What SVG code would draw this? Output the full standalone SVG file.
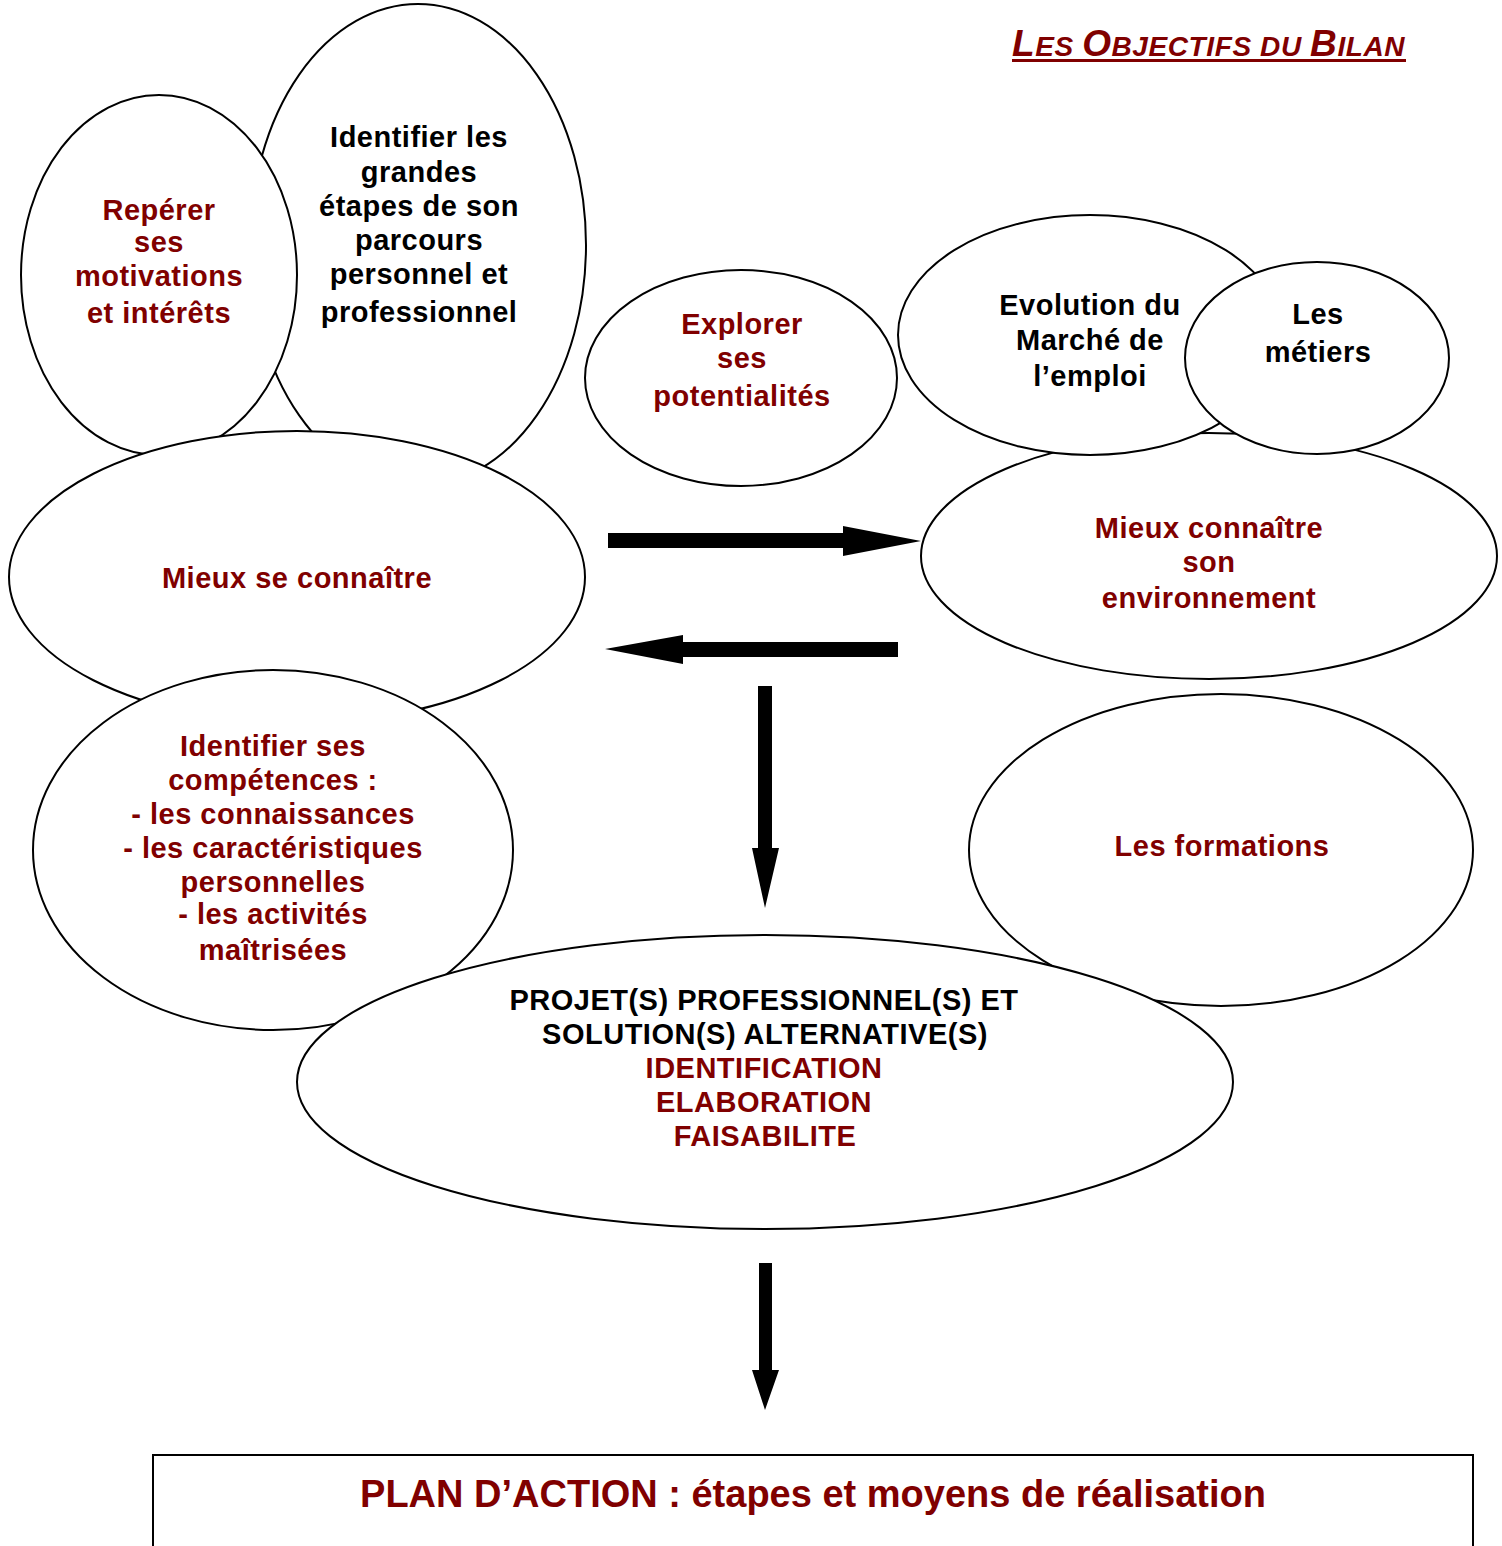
<svg xmlns="http://www.w3.org/2000/svg" width="1502" height="1546" viewBox="0 0 1502 1546">
<style>
.n{fill:#fff;stroke:#000;stroke-width:2}
text{font-family:"Liberation Sans",Arial,sans-serif;font-weight:bold;font-size:29px;letter-spacing:0.5px;text-anchor:middle}
.r{fill:#800000}
.k{fill:#000}
.ar{fill:#000;stroke:none}
</style>
<rect width="1502" height="1546" fill="#fff"/>
<g id="title">
<text x="1012" y="56" class="r" style="text-anchor:start;font-style:italic;letter-spacing:0.6px;font-size:28px"><tspan style="font-size:37px">L</tspan>ES <tspan style="font-size:37px">O</tspan>BJECTIFS DU <tspan style="font-size:37px">B</tspan>ILAN</text>
<rect x="1012" y="59" width="394" height="3" fill="#800000"/>
</g>
<g id="n-parcours">
<ellipse class="n" cx="418" cy="245" rx="168" ry="241"/>
<text class="k"><tspan x="419" y="147">Identifier les</tspan><tspan x="419" y="182">grandes</tspan><tspan x="419" y="216">étapes de son</tspan><tspan x="419" y="250">parcours</tspan><tspan x="419" y="284">personnel et</tspan><tspan x="419" y="322">professionnel</tspan></text>
</g>
<g id="n-motivations">
<ellipse class="n" cx="159" cy="275" rx="138" ry="180"/>
<text class="r"><tspan x="159" y="220">Repérer</tspan><tspan x="159" y="252">ses</tspan><tspan x="159" y="286">motivations</tspan><tspan x="159" y="323">et intérêts</tspan></text>
</g>
<g id="n-connaitre">
<ellipse class="n" cx="297" cy="577" rx="288" ry="146"/>
<text class="r" x="297" y="588">Mieux se connaître</text>
</g>
<g id="n-competences">
<ellipse class="n" cx="273" cy="850" rx="240" ry="180"/>
<text class="r"><tspan x="273" y="756">Identifier ses</tspan><tspan x="273" y="790">compétences :</tspan><tspan x="273" y="824">- les connaissances</tspan><tspan x="273" y="858">- les caractéristiques</tspan><tspan x="273" y="892">personnelles</tspan><tspan x="273" y="924">- les activités</tspan><tspan x="273" y="960">maîtrisées</tspan></text>
</g>
<g id="n-potentialites">
<ellipse class="n" cx="741" cy="378" rx="156" ry="108"/>
<text class="r"><tspan x="742" y="334">Explorer</tspan><tspan x="742" y="368">ses</tspan><tspan x="742" y="406">potentialités</tspan></text>
</g>
<g id="n-environnement">
<ellipse class="n" cx="1209" cy="556" rx="288" ry="123"/>
<text class="r"><tspan x="1209" y="538">Mieux connaître</tspan><tspan x="1209" y="572">son</tspan><tspan x="1209" y="608">environnement</tspan></text>
</g>
<g id="n-marche">
<ellipse class="n" cx="1090" cy="335" rx="192" ry="120"/>
<text class="k"><tspan x="1090" y="315">Evolution du</tspan><tspan x="1090" y="350">Marché de</tspan><tspan x="1090" y="386">l’emploi</tspan></text>
</g>
<g id="n-metiers">
<ellipse class="n" cx="1317" cy="358" rx="132" ry="96"/>
<text class="k"><tspan x="1318" y="324">Les</tspan><tspan x="1318" y="362">métiers</tspan></text>
</g>
<g id="n-formations">
<ellipse class="n" cx="1221" cy="850" rx="252" ry="156"/>
<text class="r" x="1222" y="856">Les formations</text>
</g>
<g id="n-projet">
<ellipse class="n" cx="765" cy="1082" rx="468" ry="147"/>
<text><tspan class="k" x="764" y="1010">PROJET(S) PROFESSIONNEL(S) ET</tspan><tspan class="k" x="765" y="1044">SOLUTION(S) ALTERNATIVE(S)</tspan><tspan class="r" x="764" y="1078">IDENTIFICATION</tspan><tspan class="r" x="764" y="1112">ELABORATION</tspan><tspan class="r" x="765" y="1146">FAISABILITE</tspan></text>
</g>
<g id="n-plan">
<rect x="153" y="1455" width="1320" height="110" fill="#fff" stroke="#000" stroke-width="2"/>
<text class="r" x="813" y="1507" style="font-size:38px;letter-spacing:0">PLAN D’ACTION : étapes et moyens de réalisation</text>
</g>
<g id="connectors">
<polygon class="ar" points="608,533 843,533 843,526 921,541 843,556 843,548 608,548"/>
<polygon class="ar" points="898,642 683,642 683,635 605,649 683,664 683,657 898,657"/>
<polygon class="ar" points="758,686 772,686 772,848 779,848 765,908 752,848 758,848"/>
<polygon class="ar" points="759,1263 772,1263 772,1370 779,1370 765,1410 752,1370 759,1370"/>
</g>
</svg>
